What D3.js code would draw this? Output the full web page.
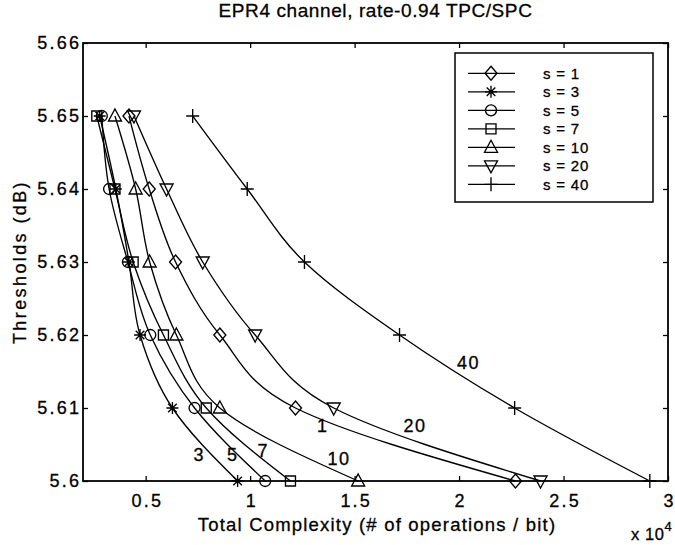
<!DOCTYPE html>
<html>
<head>
<meta charset="utf-8">
<script src="https://cdn.jsdelivr.net/npm/d3@7"></script>
<style>
  body { margin: 0; background: #fff; }
  svg { display: block; }
  text { font-family: "Liberation Sans", Arial, Helvetica, sans-serif; fill: #000; stroke: #000; stroke-width: 0.3px; }
</style>
</head>
<body>
<svg id="chart" width="675" height="545"></svg>
<script>
// ---- data (complexity in units of 1e4 operations/bit) ----
const thresholds = [5.65, 5.64, 5.63, 5.62, 5.61, 5.60];
const seriesNames = ["s = 1", "s = 3", "s = 5", "s = 7", "s = 10", "s = 20", "s = 40"];
const s1  = [0.42, 0.517, 0.643, 0.855, 1.217, 2.27];
const s3  = [0.28, 0.357, 0.42, 0.473, 0.628, 0.94];
const s5  = [0.29, 0.325, 0.415, 0.522, 0.734, 1.072];
const s7  = [0.266, 0.353, 0.44, 0.585, 0.79, 1.193];
const s10 = [0.353, 0.452, 0.519, 0.647, 0.855, 1.517];
const s20 = [0.444, 0.60, 0.773, 1.024, 1.40, 2.39];
const s40 = [0.725, 0.986, 1.26, 1.715, 2.266, 2.913];
const markerTypes = ["diamond", "asterisk", "circle", "square", "triangleUp", "triangleDown", "plus"];
const xTicks = [0.5, 1, 1.5, 2, 2.5, 3];
const yTicks = [5.6, 5.61, 5.62, 5.63, 5.64, 5.65, 5.66];
const curveLabels = ["1", "3", "5", "7", "10", "20", "40"];
const curveLabelX = [1.347, 0.757, 0.917, 1.063, 1.425, 1.789, 2.045];
const curveLabelY = [5.6076, 5.6036, 5.6036, 5.6042, 5.6030, 5.6076, 5.6162];

const allSeries = [s1, s3, s5, s7, s10, s20, s40];

// ---- layout ----
const svg = d3.select("#chart");
const L = 83, R = 668, T = 43, B = 481;
const x = d3.scaleLinear().domain([0.2, 3]).range([L, R]);
const y = d3.scaleLinear().domain([5.6, 5.66]).range([B, T]);

const TICK_LS = 2.2;
const SW = 1.35;

// title
svg.append("text")
  .attr("x", (L + R) / 2).attr("y", 17)
  .attr("text-anchor", "middle")
  .style("font-size", "19px").style("letter-spacing", "0.6px")
  .text("EPR4 channel, rate-0.94 TPC/SPC");

// axes
const fmt = d => String(d);
const gx = svg.append("g").attr("transform", `translate(0,${B})`)
  .call(d3.axisBottom(x).tickValues(xTicks).tickFormat(fmt).tickSizeInner(-5).tickSizeOuter(0).tickPadding(13));
const gxTop = svg.append("g").attr("transform", `translate(0,${T})`)
  .call(d3.axisTop(x).tickValues(xTicks).tickFormat("").tickSizeInner(-5).tickSizeOuter(0));
const gy = svg.append("g").attr("transform", `translate(${L},0)`)
  .call(d3.axisLeft(y).tickValues(yTicks).tickFormat(fmt).tickSizeInner(-5).tickSizeOuter(0).tickPadding(4));
const gyR = svg.append("g").attr("transform", `translate(${R},0)`)
  .call(d3.axisRight(y).tickValues(yTicks).tickFormat("").tickSizeInner(-5).tickSizeOuter(0));

[gx, gxTop, gy, gyR].forEach(g => {
  g.select(".domain").remove();
  g.selectAll(".tick line").attr("stroke", "#000").attr("stroke-width", 1.3);
  g.selectAll("text").style("font-size", "18px").style("letter-spacing", TICK_LS + "px")
    .style("font-family", "'Liberation Sans', Arial, sans-serif").attr("fill", "#000");
});
gx.selectAll("text").attr("dx", TICK_LS / 2);
gy.selectAll("text").attr("dx", TICK_LS);

// frame
svg.append("rect")
  .attr("x", L).attr("y", T).attr("width", R - L).attr("height", B - T)
  .attr("fill", "none").attr("stroke", "#000").attr("stroke-width", 1.8);

// axis labels
svg.append("text")
  .attr("x", 377).attr("y", 531)
  .attr("text-anchor", "middle")
  .style("font-size", "18.5px").style("letter-spacing", "1.2px")
  .text("Total Complexity (# of operations / bit)");

svg.append("text")
  .attr("transform", `translate(26,${(T + B) / 2}) rotate(-90)`)
  .attr("text-anchor", "middle")
  .style("font-size", "18px").style("letter-spacing", "2.4px")
  .text("Thresholds (dB)");

const mult = svg.append("text").attr("x", 631).attr("y", 540).style("font-size", "16.5px").style("letter-spacing", "0.6px");
mult.append("tspan").text("x 10");
mult.append("tspan").attr("dy", -9).style("font-size", "13px").text("4");

// marker shapes
function markerPath(type) {
  switch (type) {
    case "diamond": return "M0,-7L6,0L0,7L-6,0Z";
    case "circle": return d3.arc()({innerRadius: 0, outerRadius: 5.5, startAngle: 0, endAngle: 2 * Math.PI});
    case "square": return "M-5,-5H5V5H-5Z";
    case "triangleUp": return "M0,-7L6.5,5L-6.5,5Z";
    case "triangleDown": return "M0,7L6.5,-5L-6.5,-5Z";
    case "plus": return "M-6.5,0H6.5M0,-7V7";
    case "asterisk": return "M-6,0H6M0,-6V6M-4.3,-4.3L4.3,4.3M-4.3,4.3L4.3,-4.3";
  }
}

// curves
const line = d3.line()
  .x(d => x(d[0])).y(d => y(d[1]))
  .curve(d3.curveMonotoneY);

allSeries.forEach((vals, i) => {
  const pts = vals.map((v, j) => [v, thresholds[j]]);
  svg.append("path")
    .attr("d", line(pts))
    .attr("fill", "none").attr("stroke", "#000").attr("stroke-width", SW);
  svg.append("g").selectAll("path").data(pts).join("path")
    .attr("transform", d => `translate(${x(d[0])},${y(d[1])})`)
    .attr("d", markerPath(markerTypes[i]))
    .attr("fill", "none").attr("stroke", "#000").attr("stroke-width", SW);
});

// curve labels
curveLabels.forEach((t, i) => {
  svg.append("text")
    .attr("x", x(curveLabelX[i])).attr("y", y(curveLabelY[i]))
    .attr("text-anchor", "middle").attr("dy", "0.35em")
    .style("font-size", "18px").style("letter-spacing", "1.5px")
    .text(t);
});

// legend
const lg = svg.append("g");
lg.append("rect")
  .attr("x", 455).attr("y", 53).attr("width", 198).attr("height", 149)
  .attr("fill", "#fff").attr("stroke", "#000").attr("stroke-width", 1.5);
seriesNames.forEach((name, i) => {
  const yy = 73.3 + i * 18.5;
  lg.append("line").attr("x1", 468).attr("x2", 515).attr("y1", yy).attr("y2", yy)
    .attr("stroke", "#000").attr("stroke-width", SW);
  lg.append("path").attr("transform", `translate(491,${yy})`)
    .attr("d", markerPath(markerTypes[i]))
    .attr("fill", "none").attr("stroke", "#000").attr("stroke-width", SW);
  lg.append("text").attr("x", 543).attr("y", yy).attr("dy", "0.36em")
    .style("font-size", "15px").style("letter-spacing", "0.8px")
    .text(name);
});
</script>
</body>
</html>
